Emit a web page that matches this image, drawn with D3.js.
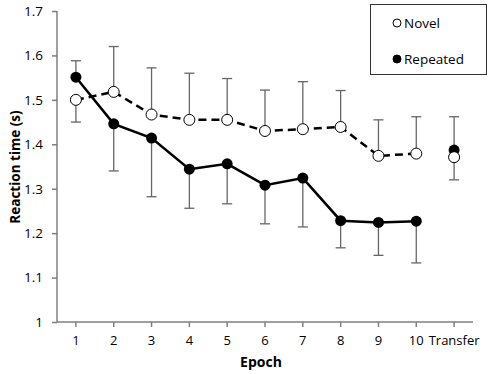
<!DOCTYPE html>
<html>
<head>
<meta charset="utf-8">
<script src="https://cdn.jsdelivr.net/npm/d3@7"></script>
<style>
  body { margin: 0; background: #fff; }
  text { font-family: "Open Sans", sans-serif; }
</style>
</head>
<body>
<div id="chart"></div>
<script>
// Data
const epochs = ["1", "2", "3", "4", "5", "6", "7", "8", "9", "10", "Transfer"];
const novel = [1.500, 1.518, 1.467, 1.455, 1.455, 1.430, 1.434, 1.439, 1.374, 1.379, 1.371];
const novelErr = [0.050, 0.102, 0.105, 0.105, 0.093, 0.092, 0.107, 0.082, 0.081, 0.083, 0.051];
const repeated = [1.551, 1.446, 1.414, 1.344, 1.356, 1.308, 1.324, 1.228, 1.224, 1.227, 1.387];
const repeatedErr = [0.037, 0.106, 0.132, 0.088, 0.090, 0.087, 0.110, 0.061, 0.074, 0.094, 0.075];
const yTicks = [1, 1.1, 1.2, 1.3, 1.4, 1.5, 1.6, 1.7];
const lineEpochs = 10; // Transfer is not joined by the line

const width = 490;
const height = 374;
const svg = d3.select("#chart")
  .append("svg")
  .attr("width", width)
  .attr("height", height);

// Scales
const x = d3.scaleBand()
  .domain(epochs)
  .range([57, 473]);
const y = d3.scaleLinear()
  .domain([1, 1.7])
  .range([322, 11]);
const cx = d => x(d) + x.bandwidth() / 2;

const grey = "#7f7f7f";

// Axes
const yAxis = svg.append("g")
  .attr("transform", "translate(57, 0)")
  .call(d3.axisLeft(y).tickValues(yTicks).tickFormat(d3.format("")).tickSize(5).tickPadding(9));
const xAxis = svg.append("g")
  .attr("transform", "translate(0, 322)")
  .call(d3.axisBottom(x).tickSize(5).tickPadding(9));
[xAxis, yAxis].forEach(g => {
  g.select(".domain").attr("stroke", grey).attr("stroke-width", 1.5);
  g.selectAll(".tick line").attr("stroke", grey).attr("stroke-width", 1.5);
  g.selectAll(".tick text").attr("fill", "#000").style("font-size", "13.5px")
    .style("font-family", "'Open Sans', sans-serif");
});
xAxis.selectAll(".tick text").style("font-size", "13px");
xAxis.select(".domain").attr("d", "M57,0H473");
yAxis.select(".domain").attr("d", "M0,11V322");

// Axis titles
svg.append("text")
  .attr("x", 261)
  .attr("y", 367)
  .attr("text-anchor", "middle")
  .style("font-size", "14px")
  .style("font-weight", "bold")
  .text("Epoch");
svg.append("text")
  .attr("transform", "rotate(-90)")
  .attr("x", -167)
  .attr("y", 20)
  .attr("text-anchor", "middle")
  .style("font-size", "13.5px")
  .style("font-weight", "bold")
  .text("Reaction time (s)");

// Error bars: the higher point of each pair gets the upper bar, the lower one the lower bar
const bars = [];
epochs.forEach((e, i) => {
  const nUp = novel[i] >= repeated[i];
  bars.push({ e: e, v: novel[i], end: novel[i] + (nUp ? 1 : -1) * novelErr[i] });
  bars.push({ e: e, v: repeated[i], end: repeated[i] + (nUp ? -1 : 1) * repeatedErr[i] });
});
const bar = svg.append("g").selectAll("g")
  .data(bars)
  .join("g")
  .attr("stroke", "#666")
  .attr("stroke-width", 1.3);
bar.append("line")
  .attr("x1", d => cx(d.e)).attr("x2", d => cx(d.e))
  .attr("y1", d => y(d.v)).attr("y2", d => y(d.end));
bar.append("line")
  .attr("x1", d => cx(d.e) - 5).attr("x2", d => cx(d.e) + 5)
  .attr("y1", d => y(d.end)).attr("y2", d => y(d.end));

// Lines
const line = d3.line()
  .x((d, i) => cx(epochs[i]))
  .y(d => y(d));
svg.append("path")
  .datum(novel.slice(0, lineEpochs))
  .attr("d", line)
  .attr("fill", "none")
  .attr("stroke", "#000")
  .attr("stroke-width", 2.5)
  .attr("stroke-dasharray", "8,5");
svg.append("path")
  .datum(repeated.slice(0, lineEpochs))
  .attr("d", line)
  .attr("fill", "none")
  .attr("stroke", "#000")
  .attr("stroke-width", 2.5);

// Markers
svg.append("g").selectAll("circle")
  .data(repeated)
  .join("circle")
  .attr("cx", (d, i) => cx(epochs[i]))
  .attr("cy", d => y(d))
  .attr("r", 5.5)
  .attr("fill", "#000");
svg.append("g").selectAll("circle")
  .data(novel)
  .join("circle")
  .attr("cx", (d, i) => cx(epochs[i]))
  .attr("cy", d => y(d))
  .attr("r", 5.5)
  .attr("fill", "#fff")
  .attr("stroke", "#000")
  .attr("stroke-width", 1);

// Legend
const legend = svg.append("g");
legend.append("rect")
  .attr("x", 370.5).attr("y", 4.5)
  .attr("width", 116).attr("height", 70)
  .attr("fill", "#fff")
  .attr("stroke", "#333")
  .attr("stroke-width", 1);
const legendItems = [
  { name: "Novel", fill: "#fff", y: 23 },
  { name: "Repeated", fill: "#000", y: 59 }
];
legendItems.forEach(d => {
  legend.append("circle")
    .attr("cx", 397).attr("cy", d.y).attr("r", 4)
    .attr("fill", d.fill).attr("stroke", "#000").attr("stroke-width", 1);
  legend.append("text")
    .attr("x", 404).attr("y", d.y + 5)
    .style("font-size", "13.5px")
    .text(d.name);
});
</script>
</body>
</html>
